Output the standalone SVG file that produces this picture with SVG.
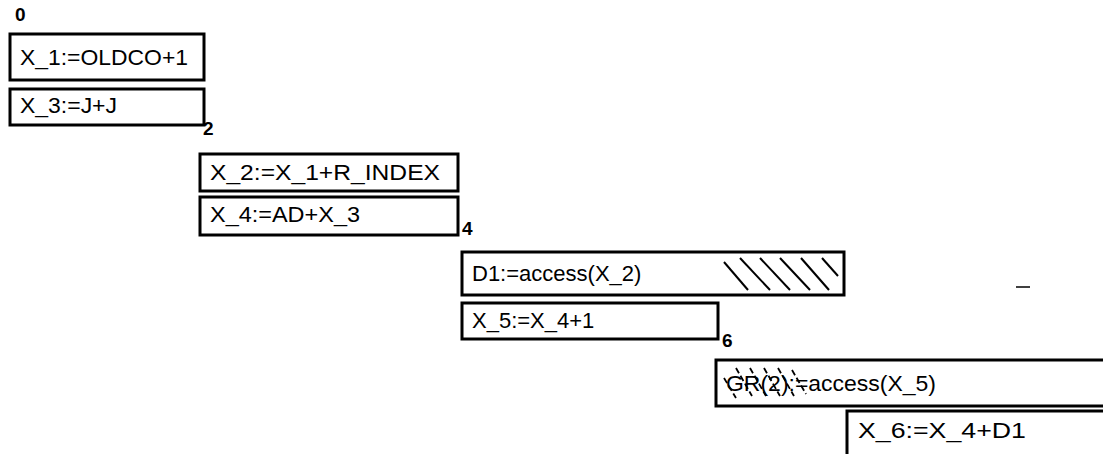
<svg xmlns="http://www.w3.org/2000/svg" width="1103" height="454" viewBox="0 0 1103 454">
  <style>
    .box { fill: #ffffff; stroke: #000000; stroke-width: 3; }
    .lbl { font-family: "Liberation Sans", Arial, sans-serif; font-size: 22px; fill: #000000; }
    .num { font-family: "Liberation Sans", Arial, sans-serif; font-size: 19px; font-weight: bold; fill: #000000; }
    .hatch { stroke: #000000; stroke-width: 2; fill: none; }
    .hatchd { stroke: #000000; stroke-width: 1.8; fill: none; stroke-dasharray: 6 3; }
  </style>
  <rect x="0" y="0" width="1103" height="454" fill="#ffffff"/>
  <g id="step-labels">
    <text class="num" x="15" y="21">0</text>
    <text class="num" x="203" y="135">2</text>
    <text class="num" x="462" y="235">4</text>
    <text class="num" x="722" y="347">6</text>
  </g>
  <g id="node-x1">
    <rect class="box" x="10" y="34" width="194" height="46"/>
    <text class="lbl" x="20" y="65" textLength="168" lengthAdjust="spacingAndGlyphs">X_1:=OLDCO+1</text>
  </g>
  <g id="node-x3">
    <rect class="box" x="10" y="89" width="194" height="36"/>
    <text class="lbl" x="20" y="113" textLength="97" lengthAdjust="spacingAndGlyphs">X_3:=J+J</text>
  </g>
  <g id="node-x2">
    <rect class="box" x="200" y="154" width="258" height="37"/>
    <text class="lbl" x="210" y="180" textLength="230" lengthAdjust="spacingAndGlyphs">X_2:=X_1+R_INDEX</text>
  </g>
  <g id="node-x4">
    <rect class="box" x="200" y="197" width="258" height="38"/>
    <text class="lbl" x="210" y="222" textLength="150" lengthAdjust="spacingAndGlyphs">X_4:=AD+X_3</text>
  </g>
  <g id="node-d1">
    <rect class="box" x="462" y="252" width="382" height="43"/>
    <text class="lbl" x="472" y="281">D1:=access(X_2)</text>
    <line class="hatch" x1="724" y1="262" x2="748" y2="290"/>
    <line class="hatch" x1="740" y1="258" x2="770" y2="290"/>
    <line class="hatch" x1="760" y1="258" x2="790" y2="290"/>
    <line class="hatch" x1="780" y1="258" x2="810" y2="290"/>
    <line class="hatch" x1="801" y1="258" x2="829" y2="290"/>
    <line class="hatch" x1="822" y1="258" x2="838" y2="276"/>
  </g>
  <g id="node-x5">
    <rect class="box" x="462" y="303" width="256" height="36"/>
    <text class="lbl" x="472" y="328">X_5:=X_4+1</text>
  </g>
  <g id="node-gr2">
    <rect class="box" x="716" y="360" width="400" height="46"/>
    <text class="lbl" x="726" y="391" textLength="210" lengthAdjust="spacingAndGlyphs">GR(2):=access(X_5)</text>
    <line class="hatchd" x1="724" y1="378" x2="736" y2="398"/>
    <line class="hatchd" x1="736" y1="368" x2="752" y2="396"/>
    <line class="hatchd" x1="750" y1="368" x2="766" y2="396"/>
    <line class="hatchd" x1="764" y1="368" x2="780" y2="396"/>
    <line class="hatchd" x1="778" y1="368" x2="794" y2="396"/>
    <line class="hatchd" x1="792" y1="370" x2="806" y2="394"/>
  </g>
  <g id="node-x6">
    <rect class="box" x="847" y="411" width="270" height="60"/>
    <text class="lbl" x="858" y="438" textLength="168" lengthAdjust="spacingAndGlyphs">X_6:=X_4+D1</text>
  </g>
  <g id="connectors"/>
  <g id="marks">
    <line x1="1016" y1="287" x2="1030" y2="287" stroke="#000000" stroke-width="1.5"/>
  </g>
</svg>
